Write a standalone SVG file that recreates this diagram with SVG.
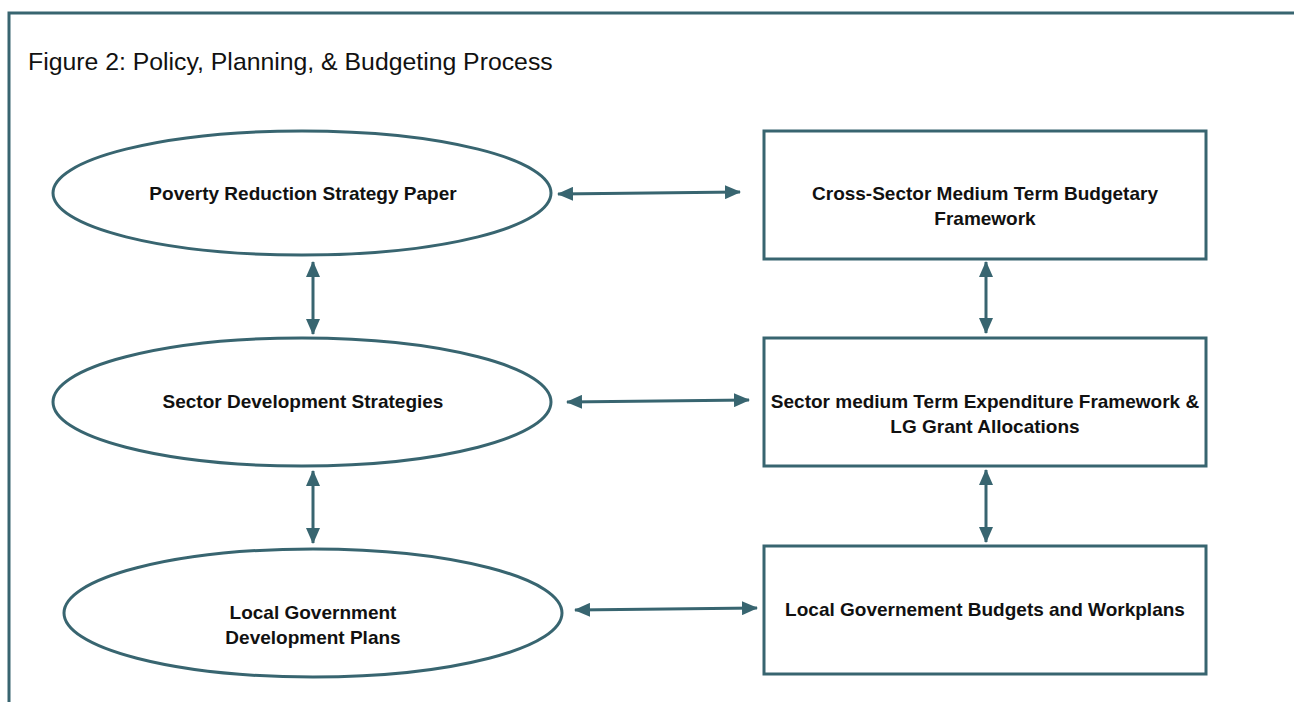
<svg xmlns="http://www.w3.org/2000/svg" width="1294" height="702" viewBox="0 0 1294 702">
<defs>
<marker id="ah" viewBox="0 0 16 14" refX="15" refY="7" markerWidth="16" markerHeight="14" markerUnits="userSpaceOnUse" orient="auto-start-reverse">
<path d="M0,0 L16,7 L0,14 Z" fill="#386570"/>
</marker>
<style>
.shape{fill:#fff;stroke:#386570;stroke-width:3}
.lbl{font-family:"Liberation Sans",Arial,sans-serif;font-weight:bold;font-size:19px;fill:#111;text-anchor:middle}
.con{stroke:#386570;stroke-width:3;fill:none;marker-start:url(#ah);marker-end:url(#ah)}
</style>
</defs>
<rect width="1294" height="702" fill="#fff"/>
<path d="M9,702 V13 H1294" fill="none" stroke="#386570" stroke-width="3"/>
<text x="28" y="70" font-family="'Liberation Sans',Arial,sans-serif" font-size="24.8" fill="#111">Figure 2: Policy, Planning, &amp; Budgeting Process</text>
<g id="prsp"><ellipse class="shape" cx="302" cy="193" rx="249" ry="62"/><text class="lbl" x="303" y="200">Poverty Reduction Strategy Paper</text></g>
<g id="sds"><ellipse class="shape" cx="302" cy="402" rx="249" ry="64"/><text class="lbl" x="303" y="408">Sector Development Strategies</text></g>
<g id="lgdp"><ellipse class="shape" cx="313" cy="613" rx="249" ry="64"/><text class="lbl" x="313" y="619">Local Government</text><text class="lbl" x="313" y="644">Development Plans</text></g>
<g id="csmtbf"><rect class="shape" x="764" y="131" width="442" height="128"/><text class="lbl" x="985" y="200">Cross-Sector Medium Term Budgetary</text><text class="lbl" x="985" y="225">Framework</text></g>
<g id="smtef"><rect class="shape" x="764" y="338" width="442" height="128"/><text class="lbl" x="985" y="408">Sector medium Term Expenditure Framework &amp;</text><text class="lbl" x="985" y="433">LG Grant Allocations</text></g>
<g id="lgbw"><rect class="shape" x="764" y="546" width="442" height="128"/><text class="lbl" x="985" y="616">Local Governement Budgets and Workplans</text></g>
<g id="connectors">
<line class="con" x1="558" y1="194" x2="740" y2="192"/>
<line class="con" x1="567" y1="402" x2="749" y2="400"/>
<line class="con" x1="575" y1="610" x2="757" y2="608"/>
<line class="con" x1="313" y1="262" x2="313" y2="334"/>
<line class="con" x1="313" y1="471" x2="313" y2="543"/>
<line class="con" x1="986" y1="262" x2="986" y2="333"/>
<line class="con" x1="986" y1="470" x2="986" y2="542"/>
</g>
</svg>
